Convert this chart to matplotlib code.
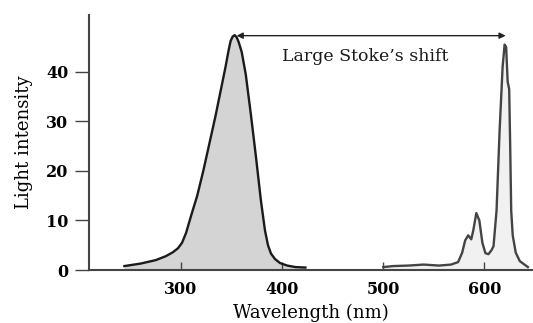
import matplotlib.pyplot as plt

# excitation spectrum (shaded)
exc_wl = [244, 260, 275, 285, 292, 297, 301, 305, 310, 316, 322, 328, 334, 340,
          344, 347, 349, 351, 353, 355, 357, 360, 364, 369, 374, 379, 383, 386,
          389, 393, 398, 405, 413, 423]
exc_val = [0.8, 1.3, 2.0, 2.8, 3.6, 4.4, 5.5, 7.5, 11, 15, 20, 25.5, 31, 37,
           41, 44.3, 46.2, 47.1, 47.4, 47.0, 46.0, 44.0, 39.5, 31.5, 23, 14,
           8, 5, 3.3, 2.2, 1.4, 0.9, 0.6, 0.5]

# emission spectrum
em_wl = [500, 510, 525, 540, 555, 567, 574, 578, 581, 584, 587, 589, 592, 595,
         598, 601, 604, 607, 609, 612, 615, 618, 620, 621.5, 623, 624.5, 625.5,
         626.5, 628, 631, 635, 643]
em_val = [0.6, 0.8, 0.9, 1.1, 0.9, 1.1, 1.6, 3.5, 6.0, 7.0, 6.2, 8.0, 11.5, 10,
          5.5, 3.4, 3.2, 4.0, 4.8, 12, 28, 41, 45.5, 45, 38, 36.5, 25,
          12, 7, 3.5, 1.8, 0.6]

xticks = [300, 400, 500, 600]
yticks = [0, 10, 20, 30, 40]

plt.rcParams['font.family'] = 'DejaVu Serif'

fig = plt.figure(figsize=(5.33, 3.23), dpi=100)
ax = fig.add_axes([0.167, 0.164, 0.831, 0.79])

ax.fill_between(exc_wl, exc_val, 0, color='#d4d4d4', lw=0)
ax.plot(exc_wl, exc_val, color='#1a1a1a', lw=1.7)
ax.fill_between(em_wl, em_val, 0, color='#f1f1f1', lw=0)
ax.plot(em_wl, em_val, color='#444444', lw=1.7)

# Stoke's shift arrow
ax.annotate('', xy=(621, 47.3), xytext=(355, 47.3),
            arrowprops=dict(arrowstyle='<|-|>', color='#222222', lw=1,
                            mutation_scale=9, shrinkA=0, shrinkB=0))
ax.text(482, 43, "Large Stoke\u2019s shift", ha='center', va='center',
        fontsize=12.5, color='#1a1a1a')

ax.set_xlim(209, 647)
ax.set_ylim(0, 51.5)
ax.set_xticks(xticks)
ax.set_yticks(yticks)
for s in ['top', 'right']:
    ax.spines[s].set_visible(False)
for s in ['left', 'bottom']:
    ax.spines[s].set_color('#444444')
    ax.spines[s].set_linewidth(1.5)
ax.tick_params(axis='x', direction='in', length=6, width=1, color='#444444', pad=8)
ax.tick_params(axis='y', direction='out', length=10, width=1, color='#444444', pad=5)
for lbl in ax.get_xticklabels() + ax.get_yticklabels():
    lbl.set_fontweight('bold')
    lbl.set_fontsize(11.5)
ax.set_xlabel('Wavelength (nm)', fontsize=13, labelpad=4)
ax.set_ylabel('Light intensity', fontsize=13, labelpad=9)

fig.savefig('out.png', dpi=100)
